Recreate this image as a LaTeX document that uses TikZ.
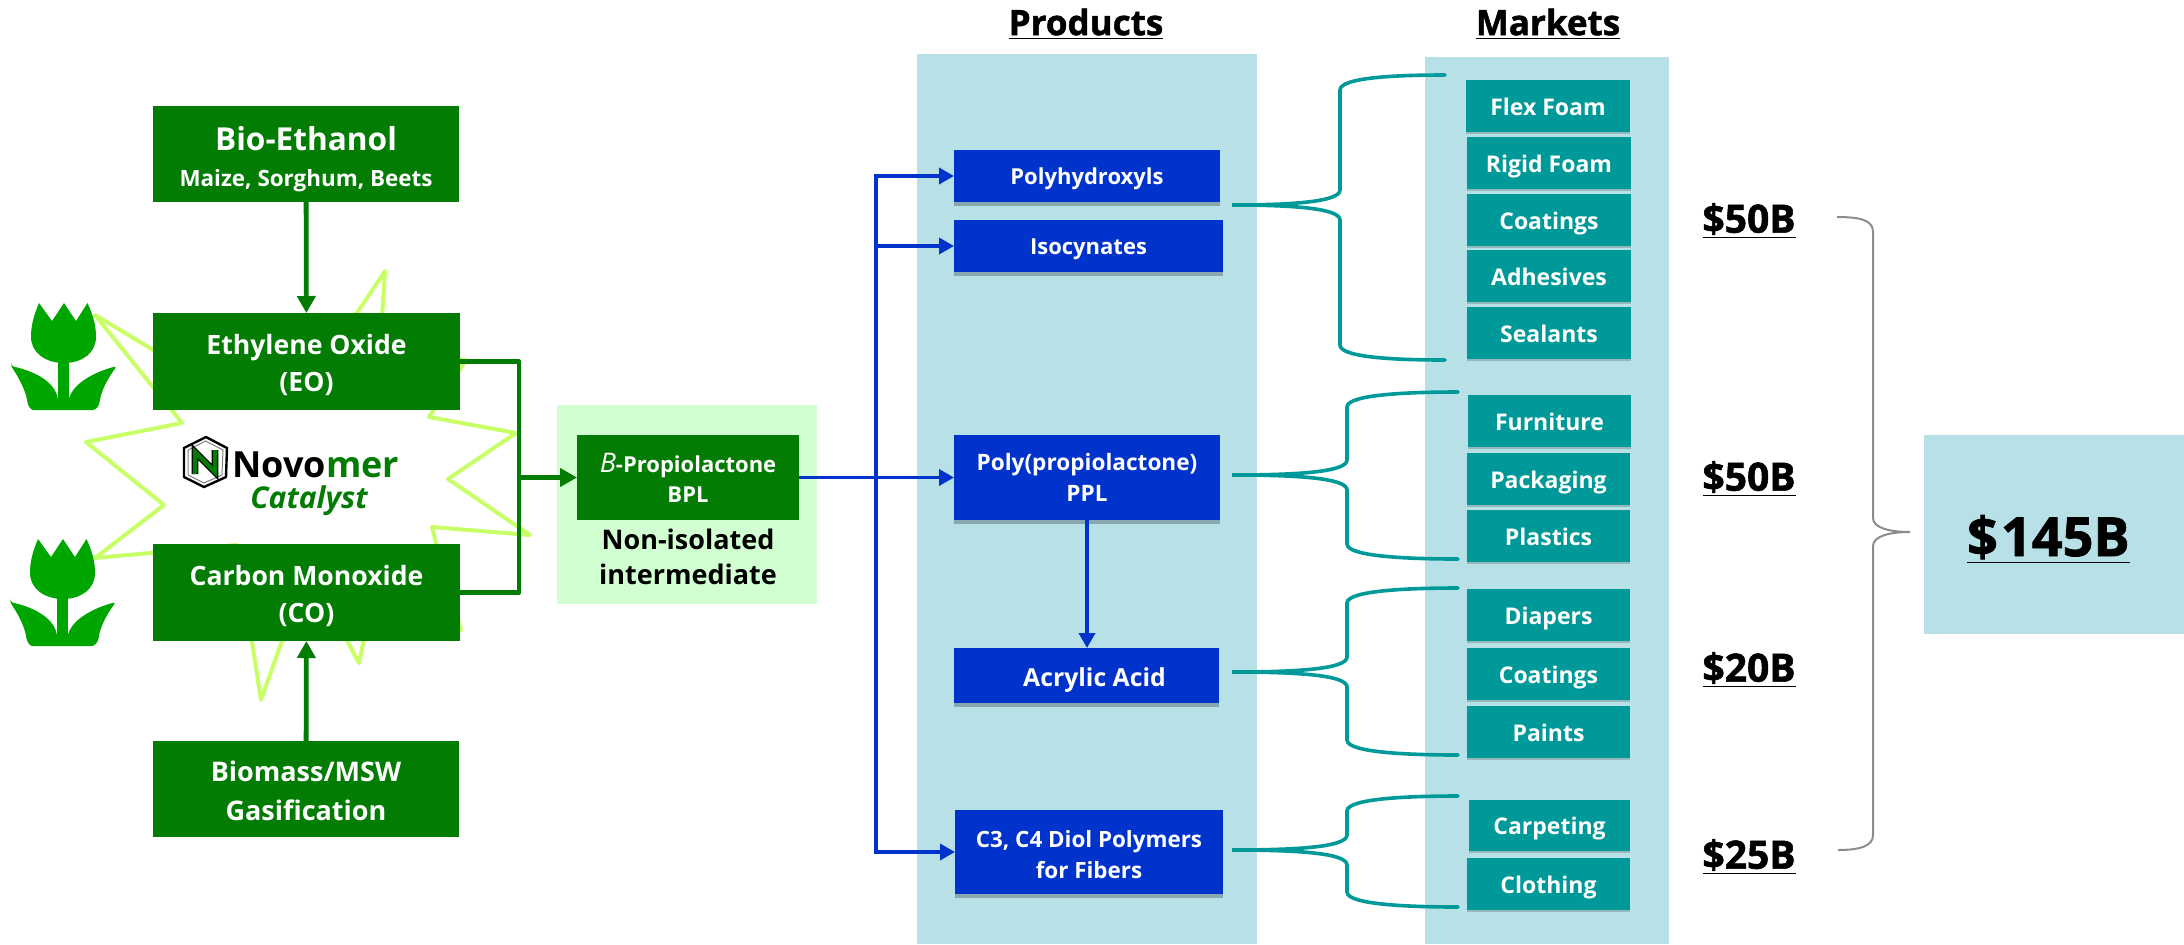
\documentclass[tikz,border=0pt]{standalone}
\usepackage{fontspec}
\setmainfont{Open Sans}
\newfontfamily\hv[BoldFeatures={FakeBold=1.4}]{Open Sans}
\usetikzlibrary{arrows.meta,shadows}
\definecolor{gbox}{HTML}{037C03}
\definecolor{bbox}{HTML}{0033CC}
\definecolor{tbox}{HTML}{009999}
\definecolor{panel}{HTML}{B7E1E7}
\definecolor{lgreen}{HTML}{D1FFD1}
\definecolor{starc}{HTML}{C9FF66}
\definecolor{tulipc}{HTML}{00A600}
\definecolor{grayb}{HTML}{8C8C8C}
\newcommand\fs[1]{\fontsize{#1}{#1}\selectfont}
\newlength\txtdrop
\newcommand\bx[7]{\pgfmathsetmacro\cxx{(#3+#5)/2}\pgfmathsetmacro\cyy{(#4+#6)/2}\pgfmathsetmacro\ww{(#5-#3)*0.5}\pgfmathsetmacro\hh{(#6-#4)*0.5}\node[#2,minimum width=\ww pt,minimum height=\hh pt] (#1) at (\cxx,\cyy) {\smash{\raisebox{-\txtdrop}{\begin{tabular}{@{}c@{}}#7\end{tabular}}}};}
\newcommand\tbrace[7]{% name, tip x, tip y, spine x, end x, top y, bottom y
  \coordinate (#1tip) at (#2,#3);
  \coordinate (#1top) at (#5,#6);
  \coordinate (#1bot) at (#5,#7);
  \draw[#1style] (#1top) .. controls ({#5-45},#6) and (#4,{#6+2}) .. (#4,{#6+15})
     -- (#4,{#3-15}) .. controls (#4,{#3-3}) and ({#4-50},#3) .. (#1tip)
     .. controls ({#4-50},#3) and (#4,{#3+3}) .. (#4,{#3+15})
     -- (#4,{#7-15}) .. controls (#4,{#7-2}) and ({#5-45},#7) .. (#1bot);}
\newcommand\tulip[2]{\begin{scope}[shift={(#1,#2)}]
  \fill[tulipc] (39,303) -- (52,321) -- (64,303) -- (76,321) -- (87.5,303)
    .. controls (93,315) and (96,325) .. (96,337)
    .. controls (96,353) and (82,363) .. (64,363)
    .. controls (46,363) and (31,353) .. (31,337)
    .. controls (31,325) and (34,315) .. cycle;
  \fill[tulipc] (58,360) rectangle (69,400);
  \fill[tulipc,rounded corners=1.5pt] (11,366) .. controls (33,371) and (52,380) .. (58,398) -- (58,400) -- (69,400) -- (69,398)
    .. controls (76,382) and (95,372) .. (117,366)
    .. controls (108,378) and (103,388) .. (100,399)
    .. controls (99,406) and (96,410) .. (90,410) -- (36,410)
    .. controls (31,410) and (28,406) .. (27,399)
    .. controls (24,388) and (19,378) .. cycle;
\end{scope}}
\tikzset{
  x=0.5pt,y=-0.5pt,
  base/.style={inner sep=0pt,outer sep=0pt,text=white,font=\bfseries},
  gnode/.style={base,fill=gbox},
  bnode/.style={base,fill=bbox,general shadow={fill=black,opacity=.25,shadow xshift=0pt,shadow yshift=-2pt}},
  tnode/.style={base,fill=tbox,font=\bfseries\fs{11.5},general shadow={fill=black,opacity=.18,shadow xshift=0pt,shadow yshift=-1.2pt}},
  tag/.style={inner sep=0pt,font=\hv\bfseries\fs{19.5},text=black},
  head/.style={inner sep=0pt,font=\hv\bfseries\fs{17.5},text=black},
  garrow/.style={draw=gbox,line width=2.4pt,-{Triangle[length=8.5pt,width=9pt]}},
  gline/.style={draw=gbox,line width=2.4pt,line join=round},
  barrow/.style={draw=bbox,line width=1.8pt,-{Triangle[length=7.5pt,width=8pt]}},
  bstyle/.style={draw=tbox,line width=1.8pt,line cap=round},
  bastyle/.style={bstyle},bbstyle/.style={bstyle},bcstyle/.style={bstyle},bdstyle/.style={bstyle},
  starline/.style={draw=starc,fill=white,line width=2pt,line join=round},
}
\begin{document}
\begin{tikzpicture}
\useasboundingbox (0,0) rectangle (2184,944);
\setlength\txtdrop{10.8pt}
% panels
\bx{prodpanel}{fill=panel,inner sep=0pt}{917}{54}{1257}{944}{}
\bx{markpanel}{fill=panel,inner sep=0pt}{1425}{57}{1669}{944}{}
\bx{totalpanel}{fill=panel,inner sep=0pt,font=\hv\bfseries\fs{27}}{1924}{435}{2184}{634}{\underline{\$\kern1.5pt145B}\hspace*{5.6pt}}
\bx{bplpanel}{fill=lgreen,inner sep=0pt}{557}{405}{817}{604}{}
% star
\draw[starline] (95,315) -- (215,387) -- (261,380) -- (357,313) -- (385,271) -- (380,350) -- (466,360) -- (429,417)
  -- (516,433) -- (448,479) -- (530,535) -- (432,527) -- (440,560) -- (461,630) -- (372,600) -- (359,663) -- (320,590)
  -- (282,641) -- (261,700) -- (237,545) -- (95,558) -- (164,505) -- (86,442) -- (182,423) -- cycle;
\tulip{0}{0}
\tulip{-1}{236}
% logo
\draw[black,line width=1.2pt,fill=white] (206,437) -- (227,448) -- (226,477) -- (204,487) -- (184,477) -- (184,448) -- cycle;
\draw[gray,line width=.5pt] (205.5,441) -- (223,450) -- (222,475) -- (204,483) -- (188,475) -- (188,450) -- cycle;
\draw[black,line width=3.4pt,line join=miter] (195,474) -- (195,452) -- (215,472) -- (215,450);
\draw[gbox,line width=2.2pt,line join=miter] (195,474) -- (195,452) -- (215,472) -- (215,450);
\node[inner sep=0pt,anchor=west,font=\bfseries\fs{18}] (novo) at (232,465) {Novo\textcolor{gbox}{mer}};
\node[inner sep=0pt,font=\bfseries\itshape\fs{15},text=gbox] (cat) at (309,501) {Catalyst};
% green column
\setlength\txtdrop{5.6pt}
\bx{bio}{gnode}{153}{106}{459}{202}{{\fs{15.8}Bio-Ethanol}\\[5.8pt]{\fs{11.2}Maize, Sorghum, Beets}}
\setlength\txtdrop{6.3pt}
\bx{eo}{gnode,font=\bfseries\fs{13.3}}{153}{313}{460}{410}{Ethylene Oxide\\[5pt](EO)}
\bx{co}{gnode,font=\bfseries\fs{13.3}}{153}{544}{460}{641}{Carbon Monoxide\\[5pt](CO)}
\bx{bm}{gnode,font=\bfseries\fs{13.5}}{153}{741}{459}{837}{Biomass/MSW\\[5pt]Gasification}
\setlength\txtdrop{4.5pt}
\bx{bpl}{gnode,font=\bfseries\fs{11}}{577}{435}{799}{520}{{\normalfont\itshape\fs{13.5}B}-Propiolactone\\[3.5pt]BPL}
\node[inner sep=0pt,align=center,font=\bfseries\fs{13.5}] (nonis) at (688,557) {Non-isolated\\[4pt]intermediate};
% blue
\setlength\txtdrop{4.5pt}
\bx{poly}{bnode,font=\bfseries\fs{11}}{954}{150}{1220}{202}{Polyhydroxyls}
\bx{iso}{bnode,font=\bfseries\fs{11}}{954}{220}{1223}{272}{Isocynates}
\bx{ppl}{bnode,font=\bfseries\fs{11.3}}{954}{435}{1220}{520}{Poly(propiolactone)\\[4pt]PPL}
\setlength\txtdrop{5.5pt}
\bx{c3}{bnode,font=\bfseries\fs{11.2}}{955}{810}{1223}{894}{C3, C4 Diol Polymers\\[3.5pt]for Fibers}
\bx{acr}{bnode,font=\bfseries\fs{12.4}}{954}{648}{1219}{703}{\hspace*{8pt}Acrylic Acid}
% teal
\setlength\txtdrop{4.9pt}
\bx{flex}{tnode}{1466}{80}{1630}{132}{Flex Foam}
\bx{rigid}{tnode}{1467}{137}{1631}{189}{Rigid Foam}
\bx{coat}{tnode}{1467}{194}{1631}{246}{Coatings}
\bx{adh}{tnode}{1467}{250}{1631}{302}{Adhesives}
\bx{seal}{tnode}{1467}{307}{1631}{359}{Sealants}
\bx{furn}{tnode}{1468}{395}{1631}{447}{Furniture}
\bx{pack}{tnode}{1467}{453}{1630}{505}{Packaging}
\bx{plas}{tnode}{1467}{510}{1630}{562}{Plastics}
\bx{diap}{tnode}{1467}{589}{1630}{641}{Diapers}
\bx{coat2}{tnode}{1467}{648}{1630}{700}{Coatings}
\bx{paint}{tnode}{1467}{706}{1630}{758}{Paints}
\bx{carp}{tnode}{1469}{800}{1630}{851}{Carpeting}
\bx{cloth}{tnode}{1467}{858}{1630}{910}{Clothing}
% green connectors
\draw[garrow] (bio) -- (eo);
\draw[garrow] (bm) -- (co);
\coordinate (jg) at (519,477.5);
\coordinate (eot) at (519,361.5);
\coordinate (cob) at (519,592.5);
\draw[gline] (eo.east) -- (eot) -- (cob) -- (co.east);
\draw[garrow] (jg) -- (bpl.west);
% blue connectors
\draw[barrow] (bpl.east) -- (ppl.west);
\draw[barrow] (ppl) -- (acr.north -| ppl);
\coordinate (jb) at (876,477.5);
\draw[barrow] (jb) |- (poly.west);
\draw[barrow] (jb) |- (iso.west);
\draw[barrow] (jb) |- (c3.west);
% teal braces
\tbrace{ba}{1232}{205}{1340}{1445}{75}{360}
\tbrace{bb}{1232}{475}{1347}{1458}{392}{559}
\tbrace{bc}{1232}{672}{1347}{1458}{588}{755}
\tbrace{bd}{1232}{850}{1347}{1458}{796}{907}
% gray brace
\coordinate (gt) at (1837,217);
\coordinate (gb) at (1838,850);
\coordinate (gm) at (1910,532);
\draw[grayb,line width=1pt] (gt) .. controls (1860,217) and (1873,220) .. (1873,232) -- (1873,518)
  .. controls (1873,528) and (1890,532) .. (gm)
  .. controls (1890,532) and (1873,536) .. (1873,546) -- (1873,835)
  .. controls (1873,846) and (1860,850) .. (gb);
% tags
\node[tag] (t1) at (1749,221) {\underline{\$50B}};
\node[tag] (t2) at (1749,479) {\underline{\$50B}};
\node[tag] (t3) at (1749,670) {\underline{\$20B}};
\node[tag] (t4) at (1749,857) {\underline{\$25B}};
\node[head] (h1) at (1086,24) {\underline{Products}};
\node[head] (h2) at (1548,24) {\underline{Markets}};
\end{tikzpicture}
\end{document}
